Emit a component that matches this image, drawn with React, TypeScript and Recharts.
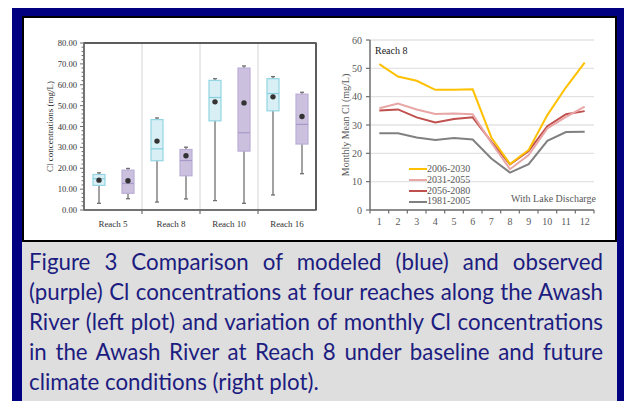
import React from 'react';
import {
  ComposedChart, Bar, XAxis, YAxis, CartesianGrid, LineChart, Line, Legend, ReferenceArea,
} from 'recharts';

// Left plot: box plots per reach
const reaches = ['Reach 5', 'Reach 8', 'Reach 10', 'Reach 16'];
const modeledMin = [3.2, 3.8, 4.5, 7.2];
const modeledQ1 = [11.8, 23.6, 42.7, 47.5];
const modeledMedian = [15.0, 29.3, 53.9, 55.8];
const modeledQ3 = [17.0, 43.3, 62.1, 62.9];
const modeledMax = [17.8, 44.1, 62.9, 63.9];
const modeledMean = [14.3, 33.0, 51.8, 54.2];
const observedMin = [5.4, 5.3, 3.2, 17.4];
const observedQ1 = [8.0, 16.4, 28.2, 31.6];
const observedMedian = [12.7, 23.7, 37.0, 41.0];
const observedQ3 = [19.1, 29.0, 68.0, 55.5];
const observedMax = [19.9, 30.1, 69.0, 56.4];
const observedMean = [14.0, 26.0, 51.3, 44.8];
const concTicks = [
  0, 2, 4, 6, 8, 10, 12, 14, 16, 18, 20, 22, 24, 26, 28, 30, 32, 34, 36, 38, 40,
  42, 44, 46, 48, 50, 52, 54, 56, 58, 60, 62, 64, 66, 68, 70, 72, 74, 76, 78, 80,
];

// Right plot: monthly mean Cl at Reach 8
const months = ['1', '2', '3', '4', '5', '6', '7', '8', '9', '10', '11', '12'];
const p2006 = [51.5, 47.1, 45.6, 42.4, 42.4, 42.6, 25.6, 16.2, 21.2, 33.5, 43.3, 52.0];
const p2031 = [35.9, 37.6, 35.5, 33.9, 34.1, 33.8, 23.8, 14.4, 19.4, 28.8, 32.9, 36.5];
const p2056 = [35.1, 35.5, 32.7, 30.9, 32.1, 32.7, 24.1, 16.1, 20.8, 29.6, 33.8, 34.9];
const p1981 = [27.1, 27.1, 25.6, 24.7, 25.4, 24.9, 18.2, 13.2, 16.2, 24.4, 27.5, 27.6];
const monthlyTicks = [0, 10, 20, 30, 40, 50, 60];

const periods = [
  { key: 'p2006', name: '2006-2030', color: '#ffc000' },
  { key: 'p2031', name: '2031-2055', color: '#e8a6a6' },
  { key: 'p2056', name: '2056-2080', color: '#c0504d' },
  { key: 'p1981', name: '1981-2005', color: '#808080' },
];

const captionLines = [
  'Figure 3 Comparison of modeled (blue) and observed',
  '(purple) Cl concentrations at four reaches along the Awash',
  'River (left plot) and variation of monthly Cl concentrations',
  'in the Awash River at Reach 8 under baseline and future',
  'climate conditions (right plot).',
];

const boxRows = reaches.map((reach, i) => ({
  reach,
  mod: { min: modeledMin[i], q1: modeledQ1[i], med: modeledMedian[i], q3: modeledQ3[i], max: modeledMax[i], mean: modeledMean[i] },
  obs: { min: observedMin[i], q1: observedQ1[i], med: observedMedian[i], q3: observedQ3[i], max: observedMax[i], mean: observedMean[i] },
}));

const monthRows = months.map((m, i) => ({
  month: m, p2006: p2006[i], p2031: p2031[i], p2056: p2056[i], p1981: p1981[i],
}));

const SERIF = '"Liberation Serif", "DejaVu Serif", serif';
const AXIS = '#6e6e6e';
const FRAME = '#5c5c5c';

const boxShape = (k: 'mod' | 'obs', fill: string, stroke: string, median: string) => (props: any) => {
  const { x, y, width, height, payload } = props;
  const s = payload[k];
  const top = Math.min(y, y + height);
  const bot = Math.max(y, y + height);
  // place box parts inside the whisker range the library gave us
  const py = (v: number) => top + ((bot - top) * (s.max - v)) / (s.max - s.min);
  const cx = x + width / 2;
  return (
    <g>
      <line x1={cx} x2={cx} y1={top} y2={bot} stroke="#707070" strokeWidth={1.3} />
      <line x1={cx - 2} x2={cx + 2} y1={top} y2={top} stroke="#707070" strokeWidth={1.3} />
      <line x1={cx - 2} x2={cx + 2} y1={bot} y2={bot} stroke="#707070" strokeWidth={1.3} />
      <rect x={x} y={py(s.q3)} width={width} height={py(s.q1) - py(s.q3)} fill={fill} stroke={stroke} strokeWidth={1.2} />
      <line x1={x} x2={x + width} y1={py(s.med)} y2={py(s.med)} stroke={median} strokeWidth={1.2} />
      <circle cx={cx} cy={py(s.mean)} r={2.7} fill="#333" />
    </g>
  );
};

const ReachTick = (props: any) => {
  const { x, y, payload, index } = props;
  const half = payload.offset || 29;
  return (
    <g>
      {index > 0 && <line x1={x - half} x2={x - half} y1={y} y2={y + 4} stroke={AXIS} strokeWidth={1.2} />}
      <text x={x} y={y + 14} textAnchor="middle" dominantBaseline="central" fontSize={9} fontFamily={SERIF} fill="#333">
        {payload.value}
      </text>
    </g>
  );
};

const ConcTick = (props: any) => {
  const { x, y, payload } = props;
  const major = payload.value % 10 === 0;
  return (
    <g>
      <line x1={x - (major ? 4 : 2.5)} x2={x} y1={y} y2={y} stroke={AXIS} strokeWidth={1} />
      {major && (
        <text x={x - 7} y={y} textAnchor="end" dominantBaseline="central" fontSize={8.6} fontFamily={SERIF} fill="#333">
          {payload.value.toFixed(2)}
        </text>
      )}
    </g>
  );
};

const MonthTick = (props: any) => {
  const { x, y, payload, index } = props;
  const half = payload.offset || 9.3;
  return (
    <g>
      <line x1={x - half} x2={x - half} y1={y} y2={y + 3.5} stroke={AXIS} strokeWidth={1.2} />
      {index === months.length - 1 && (
        <line x1={x + half} x2={x + half} y1={y} y2={y + 3.5} stroke={AXIS} strokeWidth={1.2} />
      )}
      <text x={x} y={y + 11} textAnchor="middle" dominantBaseline="central" fontSize={10} fontFamily={SERIF} fill="#595959">
        {payload.value}
      </text>
    </g>
  );
};

const yTitle = (text: string, dx: number, size: number, color: string) => (props: any) => {
  const vb = props.viewBox;
  const cx = vb.x + dx;
  const cy = vb.y + vb.height / 2;
  return (
    <text x={cx} y={cy} transform={`rotate(-90 ${cx} ${cy})`} textAnchor="middle" dominantBaseline="central"
      fontSize={size} fontFamily={SERIF} fill={color}>
      {text}
    </text>
  );
};

const PeriodLegend = () => (
  <div style={{ fontFamily: SERIF, fontSize: 10, color: '#595959' }}>
    {periods.map((p) => (
      <div key={p.key} style={{ display: 'flex', alignItems: 'center', height: 10.8 }}>
        <div style={{ width: 18, height: 2, background: p.color }} />
        <span style={{ lineHeight: '10.8px' }}>{p.name}</span>
      </div>
    ))}
  </div>
);

export default function App() {
  return (
    <div style={{ position: 'relative', width: 624, height: 401, background: '#fff', overflow: 'hidden' }}>
      <style>{'body{margin:0}'}</style>
      <div style={{ position: 'absolute', left: 12, top: 8, width: 612, height: 400, background: '#000080' }} />
      <div style={{
        position: 'absolute', left: 22, top: 16, width: 595, height: 226,
        background: '#fff', border: '2px solid #000', boxSizing: 'border-box',
      }} />

      {/* caption */}
      <div style={{
        position: 'absolute', left: 22, top: 242, width: 595, height: 159, background: '#dedede',
        paddingTop: 5, boxSizing: 'border-box',
      }}>
        {captionLines.map((line, i) => (
          <div key={i} style={{
            marginLeft: 7, width: 574, whiteSpace: 'nowrap',
            fontFamily: 'Lato, "Open Sans", sans-serif', fontSize: 22.3, lineHeight: '29.9px', color: '#1c1c80',
            textAlign: 'justify', textAlignLast: i === captionLines.length - 1 ? 'left' : 'justify',
          }}>
            {line}
          </div>
        ))}
      </div>

      {/* left: modeled vs observed box plots */}
      <div style={{ position: 'absolute', left: 24, top: 18 }}>
        <ComposedChart width={300} height={222} data={boxRows} margin={{ top: 23, right: 6, bottom: 0, left: 0 }}
          barGap={17} barSize={12}>
          <CartesianGrid horizontal={false} stroke="#d4d4d4"
            verticalCoordinatesGenerator={({ xAxis, offset }: any) => {
              const sc = xAxis && xAxis.scale;
              if (typeof sc === 'function' && sc.bandwidth) return reaches.slice(1).map((r) => sc(r));
              return reaches.slice(1).map((_, i) => offset.left + ((i + 1) * offset.width) / reaches.length);
            }} />
          <XAxis dataKey="reach" height={30} interval={0} tickSize={0} tickMargin={0} tickLine={false}
            axisLine={{ stroke: AXIS, strokeWidth: 1.5 }} tick={<ReachTick />} />
          {/* plot frame: top and right edges drawn as bare axes */}
          <XAxis xAxisId="top" dataKey="reach" orientation="top" height={2} tick={false} tickLine={false}
            axisLine={{ stroke: FRAME, strokeWidth: 2 }} />
          <YAxis width={60} type="number" domain={[0, 80]} ticks={concTicks} interval={0} tickSize={0} tickMargin={0}
            tickLine={false} axisLine={{ stroke: AXIS, strokeWidth: 1.5 }} tick={<ConcTick />}
            label={yTitle('Cl concentrations (mg/L)', 26, 9, '#333')} />
          <YAxis yAxisId="right" orientation="right" width={2} type="number" domain={[0, 80]} tick={false}
            tickLine={false} axisLine={{ stroke: FRAME, strokeWidth: 2 }} />
          <ReferenceArea y1={0} y2={80} fill="none" fillOpacity={0} stroke={FRAME} strokeWidth={1.5} ifOverflow="visible" />
          <Bar dataKey={(r: any) => [r.mod.min, r.mod.max]} isAnimationActive={false}
            shape={boxShape('mod', '#d9eff6', '#92d5e3', '#86cddd')} />
          <Bar dataKey={(r: any) => [r.obs.min, r.obs.max]} isAnimationActive={false}
            shape={boxShape('obs', '#cbc0de', '#bbaed6', '#a898c8')} />
        </ComposedChart>
      </div>

      {/* right: monthly mean Cl at Reach 8 */}
      <div style={{ position: 'absolute', left: 324, top: 18 }}>
        <LineChart width={288} height={222} data={monthRows} margin={{ top: 22, right: 18, bottom: 0, left: 0 }}>
          <CartesianGrid vertical={false} stroke="#e3e3e3" strokeWidth={1.3} />
          <XAxis dataKey="month" scale="band" height={30} interval={0} tickSize={0} tickMargin={0} tickLine={false}
            axisLine={{ stroke: AXIS, strokeWidth: 1.5 }} tick={<MonthTick />} />
          <YAxis width={46} type="number" domain={[0, 60]} ticks={monthlyTicks} interval={0} tickSize={4} tickMargin={4}
            tickLine={{ stroke: AXIS, strokeWidth: 1.2 }} axisLine={{ stroke: AXIS, strokeWidth: 1.5 }}
            tick={{ fontSize: 10, fontFamily: SERIF, fill: '#595959' }}
            label={yTitle('Monthly Mean Cl (mg/L)', 21, 10, '#595959')} />
          {[...periods].reverse().map((p) => (
            <Line key={p.key} dataKey={p.key} name={p.name} stroke={p.color} strokeWidth={2} dot={false}
              isAnimationActive={false} />
          ))}
          <Legend layout="vertical" align="center" verticalAlign="middle"
            wrapperStyle={{ left: 85, top: 146, width: 'auto', height: 'auto' }} content={() => <PeriodLegend />} />
        </LineChart>
      </div>

      <svg width={624} height={401} style={{ position: 'absolute', left: 0, top: 0, pointerEvents: 'none' }}>
        <text x={375} y={54} fontSize={10} fontFamily={SERIF} fill="#222">Reach 8</text>
        <text x={511} y={202} fontSize={10} fontFamily={SERIF} fill="#595959">With Lake Discharge</text>
      </svg>
    </div>
  );
}
